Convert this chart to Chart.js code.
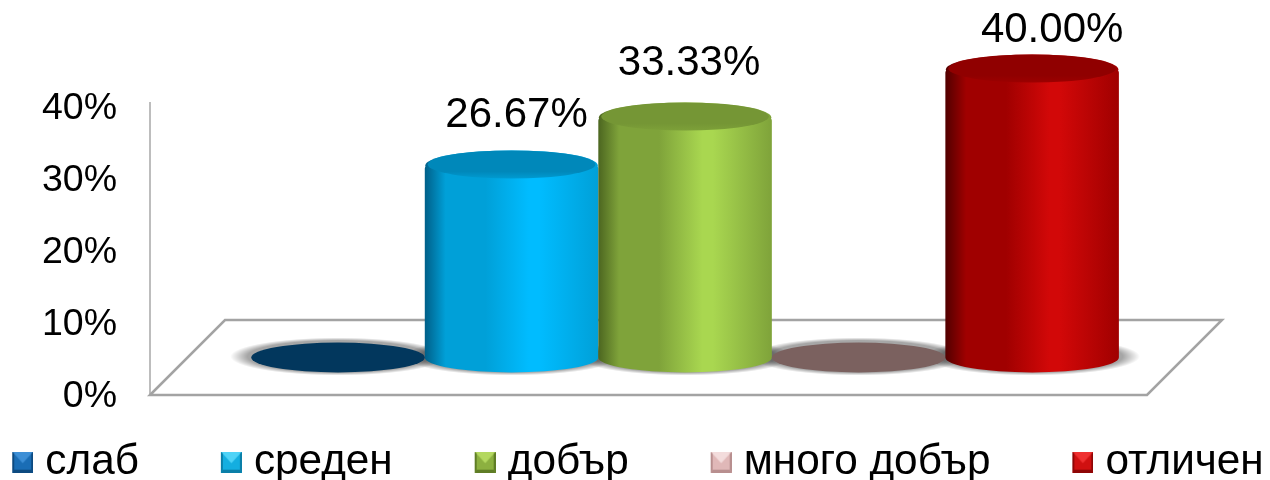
<!DOCTYPE html>
<html>
<head>
<meta charset="utf-8">
<style>html,body{margin:0;padding:0;background:#fff}#wrap{width:1270px;height:480px}</style>
<script src="https://cdn.jsdelivr.net/npm/chart.js@4/dist/chart.umd.min.js"></script>
</head>
<body>
<div id="wrap"><canvas id="c" width="1270" height="480"></canvas></div>
<script>
const categories = ['слаб', 'среден', 'добър', 'много добър', 'отличен'];
const values = [0, 26.67, 33.33, 0, 40];
const valueLabels = ['', '26.67%', '33.33%', '', '40.00%'];
const tickValues = [0, 10, 20, 30, 40];
const bodyDark = ['#002a48', '#005f88', '#4c6620', '#5a4544', '#520000'];
const bodyMid = ['#00507f', '#00a0d8', '#7fa33a', '#8a7070', '#a00000'];
const bodyBright = ['#0070b0', '#00bcff', '#a9d750', '#b09090', '#d20808'];
const capColor = ['#02375d', '#0088ba', '#759635', '#7b615f', '#900000'];
const markerLight = ['#3d8fd6', '#4fd3f7', '#b4d860', '#f3dcdc', '#ef3030'];
const markerMid = ['#1a6db5', '#14aee0', '#8cb040', '#e0b8b8', '#d01010'];
const markerDark = ['#0d4a80', '#0a7fa8', '#5f7d26', '#b88f8f', '#8e0606'];

const FONT = '"Liberation Sans", Arial, sans-serif';
const DEPTH = 75, RY = 15;

function makeMarker(i) {
  const s = 21, pad = 9;
  const cv = document.createElement('canvas');
  cv.width = s + pad; cv.height = s;
  const g = cv.getContext('2d');
  g.translate(pad, 0);
  const tri = (pts, col) => {
    g.fillStyle = col; g.beginPath();
    pts.forEach((p, k) => k ? g.lineTo(p[0], p[1]) : g.moveTo(p[0], p[1]));
    g.closePath(); g.fill();
  };
  g.fillStyle = markerMid[i]; g.fillRect(0, 0, s, s);
  tri([[0, 0], [s, 0], [s / 2, s / 2 + 1]], markerLight[i]);
  tri([[0, s], [s, s], [s - 2, s - 3], [2, s - 3]], markerDark[i]);
  tri([[0, 0], [2, 2], [2, s - 3], [0, s]], markerDark[i]);
  tri([[s, 0], [s - 2, 2], [s - 2, s - 3], [s, s]], markerDark[i]);
  return cv;
}
const markers = categories.map((_, i) => makeMarker(i));

const cylinders = {
  id: 'cylinders',
  beforeInit(chart) {
    const lg = chart.legend, orig = lg.fit;
    lg.fit = function () { lg.maxWidth = 3000; orig.call(lg); lg.width = 1270; lg.height = 0; };
  },
  afterLayout(chart) {
    const lg = chart.legend;
    lg.top = 441 - chart.options.plugins.legend.labels.padding;
    lg.bottom = 480;
    lg.height = 480 - lg.top;
    lg.left = -224;
    lg.right = 1500;
  },
  beforeDatasetsDraw(chart) {
    const { ctx, chartArea: a } = chart;
    ctx.save();
    ctx.strokeStyle = '#bdbdbd'; ctx.lineWidth = 2;
    ctx.beginPath(); ctx.moveTo(a.left, a.top - 5); ctx.lineTo(a.left, a.bottom); ctx.stroke();
    ctx.strokeStyle = '#a3a3a3'; ctx.lineWidth = 2.5; ctx.lineJoin = 'miter';
    ctx.beginPath();
    ctx.moveTo(a.left, a.bottom);
    ctx.lineTo(a.left + DEPTH, a.bottom - DEPTH);
    ctx.lineTo(a.right + DEPTH, a.bottom - DEPTH);
    ctx.lineTo(a.right, a.bottom);
    ctx.closePath();
    ctx.stroke();
    ctx.restore();
  },
  afterDatasetsDraw(chart) {
    const { ctx, chartArea: a } = chart;
    const meta = chart.getDatasetMeta(0);
    const base = a.bottom - DEPTH / 2;
    ctx.save();
    // soft shadows on the floor
    meta.data.forEach(el => {
      const rx = el.width / 2 + 21;
      ctx.save();
      ctx.translate(el.x, base - 1);
      ctx.scale(1, (RY + 4) / rx);
      const g = ctx.createRadialGradient(0, 0, rx * 0.84, 0, 0, rx);
      g.addColorStop(0, 'rgba(0,0,0,0.35)');
      g.addColorStop(1, 'rgba(0,0,0,0)');
      ctx.fillStyle = g;
      ctx.beginPath(); ctx.arc(0, 0, rx, 0, Math.PI * 2); ctx.fill();
      ctx.restore();
    });
    meta.data.forEach((el, i) => {
      const rx = el.width / 2, cx = el.x, top = el.y - DEPTH / 2;
      if (values[i] <= 0) {
        ctx.fillStyle = capColor[i];
        ctx.beginPath(); ctx.ellipse(cx, base, rx, RY, 0, 0, Math.PI * 2); ctx.fill();
        return;
      }
      const g = ctx.createLinearGradient(cx - rx, 0, cx + rx, 0);
      g.addColorStop(0, bodyDark[i]);
      g.addColorStop(0.12, bodyMid[i]);
      g.addColorStop(0.35, bodyMid[i]);
      g.addColorStop(0.6, bodyBright[i]);
      g.addColorStop(0.66, bodyBright[i]);
      g.addColorStop(1, bodyMid[i]);
      ctx.fillStyle = g;
      ctx.beginPath();
      ctx.moveTo(cx - rx, top + 3);
      ctx.lineTo(cx - rx, base);
      ctx.ellipse(cx, base, rx, RY, 0, Math.PI, 0, true);
      ctx.lineTo(cx + rx, top + 3);
      ctx.ellipse(cx, top + 3, rx, RY, 0, 0, Math.PI, true);
      ctx.closePath();
      ctx.fill();
      // rim
      ctx.fillStyle = g;
      ctx.beginPath(); ctx.ellipse(cx, top, rx - 0.5, RY, 0, 0, Math.PI * 2); ctx.fill();
      // cap face
      const cg = ctx.createLinearGradient(0, top - RY, 0, top + RY);
      cg.addColorStop(0, capColor[i]);
      cg.addColorStop(0.7, capColor[i]);
      cg.addColorStop(1, bodyMid[i]);
      ctx.fillStyle = cg;
      ctx.beginPath(); ctx.ellipse(cx, top - 1, rx - 3, RY - 1, 0, 0, Math.PI * 2); ctx.fill();
    });
    ctx.fillStyle = '#000';
    ctx.font = '42px ' + FONT;
    ctx.textAlign = 'center';
    ctx.textBaseline = 'middle';
    const nudgeX = [0, 5, 4, 0, 20], nudgeY = [0, -50, -54, 0, -39];
    meta.data.forEach((el, i) => {
      if (valueLabels[i]) ctx.fillText(valueLabels[i], el.x + nudgeX[i], el.y - DEPTH / 2 + nudgeY[i]);
    });
    ctx.restore();
  }
};

new Chart(document.getElementById('c'), {
  type: 'bar',
  data: {
    datasets: [{
      data: values.map((v, i) => ({ x: i, y: v })),
      backgroundColor: 'rgba(0,0,0,0)',
      borderWidth: 0,
      barPercentage: 1,
      categoryPercentage: 1
    }]
  },
  options: {
    responsive: false,
    animation: false,
    layout: { padding: { left: 0, right: 123, top: 107, bottom: 85 } },
    scales: {
      x: {
        type: 'linear', display: false, offset: false, min: -1.0836, max: 4.662,
        grid: { display: false, offset: false },
        ticks: { stepSize: 1, includeBounds: false, autoSkip: false }
      },
      y: {
        min: 0, max: 40,
        afterFit(s) { s.width = 150; },
        afterBuildTicks(s) { s.ticks = tickValues.map(v => ({ value: v })); },
        grid: { display: false, drawTicks: false },
        border: { display: false },
        ticks: {
          padding: 33,
          labelOffset: 2,
          color: '#000',
          font: { family: FONT, size: 37.5 },
          callback: v => v + '%'
        }
      }
    },
    plugins: {
      tooltip: { enabled: false },
      legend: {
        position: 'bottom',
        labels: {
          usePointStyle: true,
          pointStyleWidth: 11.85,
          padding: 82,
          color: '#000',
          font: { family: FONT, size: 42.3 },
          generateLabels: () => categories.map((c, i) => ({
            text: c, pointStyle: markers[i], fillStyle: markerMid[i],
            strokeStyle: markerMid[i], lineWidth: 0, hidden: false, index: i, fontColor: '#000'
          }))
        }
      }
    }
  },
  plugins: [cylinders]
});
</script>
</body>
</html>
